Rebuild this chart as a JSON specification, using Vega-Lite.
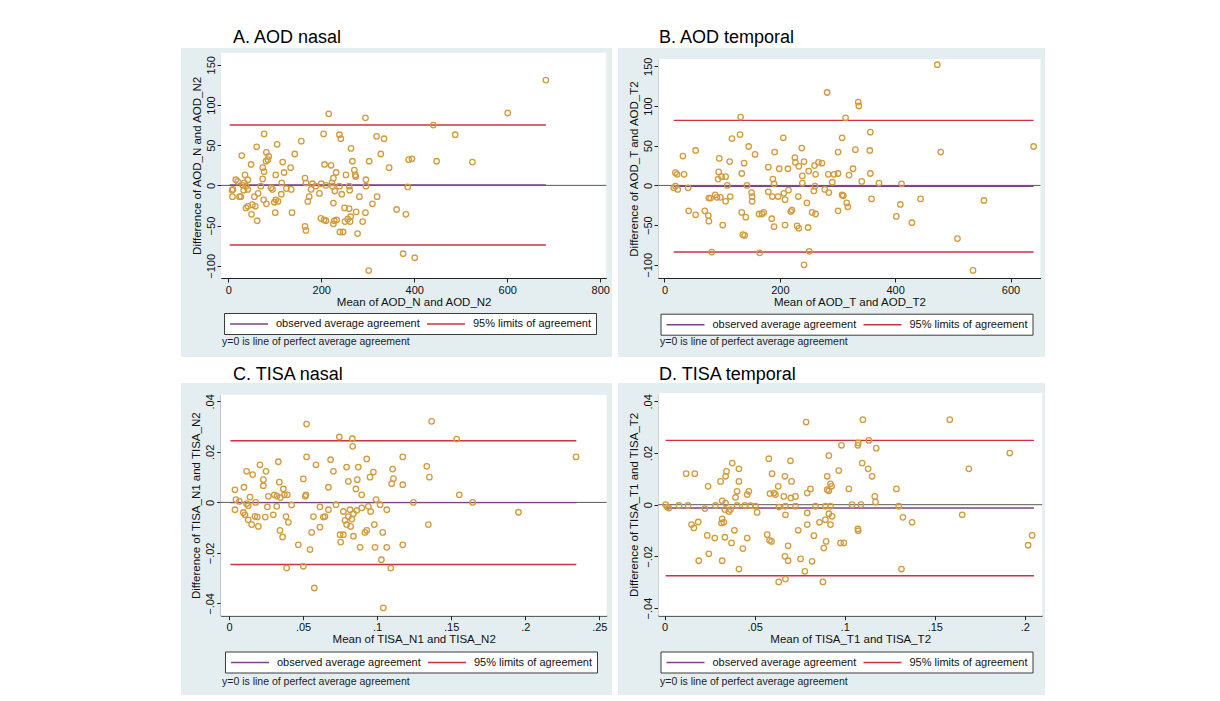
{
"$schema": "https://vega.github.io/schema/vega-lite/v6.json",
"background": "white",
"padding": {"left": 181, "top": 29, "right": 5, "bottom": 2},
"datasets": {
"ptsA": [{"m":683,"d":131},{"m":601,"d":90},{"m":488,"d":63},{"m":525,"d":29},{"m":448,"d":30},{"m":441,"d":75},{"m":395,"d":33},{"m":388,"d":32},{"m":386,"d":-2},{"m":382,"d":-36},{"m":376,"d":-85},{"m":401,"d":-90},{"m":362,"d":-30},{"m":346,"d":22},{"m":335,"d":58},{"m":328,"d":39},{"m":319,"d":61},{"m":320,"d":-14},{"m":310,"d":-23},{"m":302,"d":-106},{"m":303,"d":30},{"m":295,"d":84},{"m":296,"d":7},{"m":296,"d":-1},{"m":295,"d":-34},{"m":289,"d":-45},{"m":278,"d":-60},{"m":282,"d":-14},{"m":274,"d":11},{"m":271,"d":19},{"m":273,"d":13},{"m":267,"d":30},{"m":264,"d":46},{"m":260,"d":-1},{"m":260,"d":-29},{"m":263,"d":-39},{"m":257,"d":-42},{"m":262,"d":-45},{"m":251,"d":-45},{"m":250,"d":-28},{"m":253,"d":13},{"m":244,"d":-11},{"m":247,"d":-58},{"m":240,"d":-58},{"m":233,"d":-43},{"m":226,"d":-48},{"m":228,"d":-44},{"m":239,"d":63},{"m":242,"d":58},{"m":221,"d":25},{"m":226,"d":9},{"m":223,"d":3},{"m":224,"d":-1},{"m":229,"d":-7},{"m":226,"d":-22},{"m":216,"d":89},{"m":210,"d":0},{"m":207,"d":26},{"m":205,"d":64},{"m":206,"d":-43},{"m":210,"d":-44},{"m":199,"d":-41},{"m":196,"d":-10},{"m":181,"d":2},{"m":178,"d":-5},{"m":174,"d":-14},{"m":171,"d":-20},{"m":165,"d":9},{"m":167,"d":3},{"m":165,"d":-51},{"m":167,"d":-56},{"m":157,"d":55},{"m":143,"d":39},{"m":134,"d":22},{"m":137,"d":-34},{"m":135,"d":-5},{"m":117,"d":29},{"m":120,"d":16},{"m":115,"d":3},{"m":114,"d":-11},{"m":105,"d":51},{"m":102,"d":13},{"m":102,"d":-18},{"m":107,"d":-20},{"m":101,"d":-34},{"m":92,"d":-3},{"m":95,"d":-5},{"m":99,"d":-21},{"m":87,"d":36},{"m":82,"d":41},{"m":81,"d":30},{"m":85,"d":32},{"m":77,"d":64},{"m":74,"d":22},{"m":77,"d":17},{"m":74,"d":8},{"m":76,"d":-18},{"m":82,"d":-23},{"m":70,"d":-1},{"m":64,"d":-10},{"m":61,"d":48},{"m":62,"d":-44},{"m":49,"d":26},{"m":56,"d":-14},{"m":52,"d":-24},{"m":50,"d":-36},{"m":58,"d":-26},{"m":42,"d":-26},{"m":38,"d":-28},{"m":42,"d":7},{"m":34,"d":3},{"m":36,"d":13},{"m":38,"d":-1},{"m":29,"d":37},{"m":33,"d":-6},{"m":27,"d":-14},{"m":24,"d":-14},{"m":16,"d":7},{"m":20,"d":5},{"m":8,"d":-6},{"m":9,"d":-14},{"m":10,"d":-5},{"m":31,"d":0},{"m":42,"d":-5},{"m":232,"d":16},{"m":125,"d":-4},{"m":188,"d":-1},{"m":200,"d":2},{"m":239,"d":-1},{"m":261,"d":-6},{"m":275,"d":-33}],
"ptsB": [{"m":473,"d":152},{"m":640,"d":49},{"m":479,"d":42},{"m":554,"d":-19},{"m":508,"d":-67},{"m":535,"d":-107},{"m":282,"d":117},{"m":336,"d":105},{"m":337,"d":100},{"m":314,"d":85},{"m":132,"d":86},{"m":357,"d":67},{"m":308,"d":60},{"m":206,"d":60},{"m":117,"d":59},{"m":131,"d":64},{"m":54,"d":44},{"m":32,"d":37},{"m":146,"d":49},{"m":157,"d":39},{"m":191,"d":42},{"m":238,"d":47},{"m":226,"d":35},{"m":227,"d":29},{"m":233,"d":24},{"m":242,"d":30},{"m":260,"d":25},{"m":273,"d":28},{"m":301,"d":42},{"m":331,"d":45},{"m":356,"d":44},{"m":327,"d":21},{"m":320,"d":13},{"m":308,"d":-12},{"m":316,"d":-22},{"m":318,"d":-27},{"m":301,"d":-32},{"m":310,"d":-13},{"m":284,"d":14},{"m":294,"d":14},{"m":291,"d":4},{"m":285,"d":-9},{"m":262,"d":14},{"m":261,"d":-1},{"m":259,"d":-7},{"m":256,"d":-34},{"m":262,"d":-36},{"m":247,"d":-22},{"m":249,"d":-53},{"m":242,"d":-100},{"m":239,"d":12},{"m":239,"d":3},{"m":232,"d":-14},{"m":230,"d":-51},{"m":233,"d":-54},{"m":221,"d":-31},{"m":219,"d":-33},{"m":215,"d":-6},{"m":207,"d":-10},{"m":209,"d":-18},{"m":209,"d":-50},{"m":190,"d":-52},{"m":188,"d":8},{"m":190,"d":2},{"m":197,"d":-14},{"m":187,"d":-14},{"m":186,"d":-42},{"m":180,"d":-8},{"m":169,"d":-36},{"m":172,"d":-34},{"m":164,"d":-36},{"m":165,"d":-85},{"m":152,"d":-14},{"m":152,"d":-20},{"m":151,"d":-9},{"m":143,"d":0},{"m":138,"d":28},{"m":134,"d":15},{"m":134,"d":-34},{"m":141,"d":-40},{"m":136,"d":-62},{"m":139,"d":-63},{"m":113,"d":30},{"m":114,"d":-14},{"m":106,"d":11},{"m":106,"d":-20},{"m":101,"d":-50},{"m":95,"d":34},{"m":94,"d":17},{"m":99,"d":11},{"m":93,"d":8},{"m":88,"d":-12},{"m":91,"d":-15},{"m":77,"d":-16},{"m":76,"d":-38},{"m":77,"d":-45},{"m":70,"d":-32},{"m":82,"d":-84},{"m":54,"d":-37},{"m":42,"d":-32},{"m":41,"d":-3},{"m":34,"d":14},{"m":19,"d":16},{"m":22,"d":14},{"m":19,"d":-1},{"m":23,"d":-5},{"m":16,"d":-3},{"m":278,"d":-5},{"m":267,"d":29},{"m":301,"d":15},{"m":342,"d":5},{"m":357,"d":15},{"m":359,"d":-17},{"m":372,"d":3},{"m":402,"d":-39},{"m":409,"d":-24},{"m":411,"d":2},{"m":429,"d":-47},{"m":444,"d":-17},{"m":180,"d":23},{"m":199,"d":21},{"m":214,"d":21},{"m":250,"d":18},{"m":109,"d":0},{"m":80,"d":-16},{"m":97,"d":-15},{"m":251,"d":-83}],
"ptsC": [{"m":0.1368,"d":0.0321},{"m":0.0524,"d":0.031},{"m":0.0745,"d":0.0259},{"m":0.0833,"d":0.0252},{"m":0.0835,"d":0.0222},{"m":0.1537,"d":0.0251},{"m":0.2343,"d":0.018},{"m":0.1173,"d":0.018},{"m":0.0524,"d":0.018},{"m":0.0686,"d":0.0169},{"m":0.093,"d":0.0172},{"m":0.0333,"d":0.0161},{"m":0.0209,"d":0.0149},{"m":0.0587,"d":0.0149},{"m":0.1335,"d":0.0143},{"m":0.0794,"d":0.014},{"m":0.0873,"d":0.014},{"m":0.1105,"d":0.0132},{"m":0.0119,"d":0.0123},{"m":0.016,"d":0.011},{"m":0.025,"d":0.0123},{"m":0.0705,"d":0.0123},{"m":0.0975,"d":0.012},{"m":0.0952,"d":0.01},{"m":0.1353,"d":0.01},{"m":0.0232,"d":0.009},{"m":0.0502,"d":0.0093},{"m":0.0806,"d":0.0083},{"m":0.0866,"d":0.009},{"m":0.111,"d":0.0094},{"m":0.1098,"d":0.0074},{"m":0.1173,"d":0.007},{"m":0.034,"d":0.008},{"m":0.0232,"d":0.0066},{"m":0.0671,"d":0.006},{"m":0.0101,"d":0.006},{"m":0.004,"d":0.005},{"m":0.0367,"d":0.0053},{"m":0.0857,"d":0.0053},{"m":0.0896,"d":0.003},{"m":0.0374,"d":0.003},{"m":0.0394,"d":0.003},{"m":0.0306,"d":0.003},{"m":0.0266,"d":0.0024},{"m":0.0142,"d":0.0021},{"m":0.052,"d":0.003},{"m":0.0515,"d":0.0024},{"m":0.0047,"d":0.0011},{"m":0.007,"d":0.0004},{"m":0.1555,"d":0.003},{"m":0.0993,"d":0.0011},{"m":0.1245,"d":0.0},{"m":0.1645,"d":0.0},{"m":0.0119,"d":-0.0005},{"m":0.013,"d":-0.0013},{"m":0.004,"d":-0.0029},{"m":0.0259,"d":-0.0018},{"m":0.0322,"d":-0.0016},{"m":0.0423,"d":-0.001},{"m":0.0614,"d":-0.0018},{"m":0.0671,"d":-0.0029},{"m":0.0722,"d":-0.0009},{"m":0.0941,"d":-0.0016},{"m":0.0956,"d":-0.0036},{"m":0.102,"d":-0.0009},{"m":0.1065,"d":-0.0029},{"m":0.1954,"d":-0.0039},{"m":0.0097,"d":-0.004},{"m":0.0108,"d":-0.0049},{"m":0.013,"d":-0.0069},{"m":0.0191,"d":-0.0058},{"m":0.0299,"d":-0.0049},{"m":0.0385,"d":-0.0056},{"m":0.0401,"d":-0.0079},{"m":0.057,"d":-0.0056},{"m":0.0637,"d":-0.0058},{"m":0.0772,"d":-0.0036},{"m":0.0817,"d":-0.0029},{"m":0.084,"d":-0.0045},{"m":0.0806,"d":-0.0056},{"m":0.0829,"d":-0.0066},{"m":0.0783,"d":-0.0071},{"m":0.0794,"d":-0.0088},{"m":0.0821,"d":-0.0095},{"m":0.0862,"d":-0.0032},{"m":0.0153,"d":-0.0088},{"m":0.0198,"d":-0.0095},{"m":0.0344,"d":-0.0111},{"m":0.0362,"d":-0.0137},{"m":0.0614,"d":-0.0098},{"m":0.0558,"d":-0.0119},{"m":0.075,"d":-0.0128},{"m":0.0772,"d":-0.0128},{"m":0.084,"d":-0.0134},{"m":0.093,"d":-0.0111},{"m":0.0918,"d":-0.0119},{"m":0.0981,"d":-0.0088},{"m":0.1038,"d":-0.0119},{"m":0.1346,"d":-0.0088},{"m":0.0754,"d":-0.0157},{"m":0.0468,"d":-0.0168},{"m":0.0547,"d":-0.0187},{"m":0.0885,"d":-0.0178},{"m":0.0986,"d":-0.0178},{"m":0.1065,"d":-0.0178},{"m":0.1173,"d":-0.0168},{"m":0.1029,"d":-0.0227},{"m":0.0389,"d":-0.026},{"m":0.0502,"d":-0.0253},{"m":0.1092,"d":-0.026},{"m":0.0576,"d":-0.0339},{"m":0.1042,"d":-0.0418},{"m":0.0648,"d":-0.0056},{"m":0.0896,"d":-0.0022},{"m":0.0324,"d":0.0025},{"m":0.0347,"d":0.0019},{"m":0.018,"d":0.0},{"m":0.0175,"d":-0.0055},{"m":0.0245,"d":-0.0058}],
"ptsD": [{"m":0.0786,"d":0.032},{"m":0.1101,"d":0.0329},{"m":0.1583,"d":0.0329},{"m":0.1916,"d":0.02},{"m":0.1689,"d":0.0139},{"m":0.1652,"d":-0.0039},{"m":0.204,"d":-0.0119},{"m":0.2018,"d":-0.0157},{"m":0.1315,"d":-0.0249},{"m":0.1287,"d":0.0061},{"m":0.13,"d":-0.0006},{"m":0.1323,"d":-0.0049},{"m":0.1374,"d":-0.0068},{"m":0.1134,"d":0.0249},{"m":0.1075,"d":0.0239},{"m":0.1073,"d":0.023},{"m":0.0982,"d":0.023},{"m":0.1175,"d":0.0219},{"m":0.1097,"d":0.0161},{"m":0.113,"d":0.0139},{"m":0.1152,"d":0.011},{"m":0.0912,"d":0.019},{"m":0.0967,"d":0.0132},{"m":0.0699,"d":0.017},{"m":0.0579,"d":0.0178},{"m":0.0597,"d":0.012},{"m":0.0668,"d":0.011},{"m":0.0705,"d":0.009},{"m":0.0631,"d":0.0071},{"m":0.0607,"d":0.0045},{"m":0.0616,"d":0.0039},{"m":0.0662,"d":0.0032},{"m":0.0727,"d":0.0032},{"m":0.0792,"d":0.0045},{"m":0.081,"d":0.0061},{"m":0.0903,"d":0.0058},{"m":0.0921,"d":0.0081},{"m":0.0927,"d":0.0071},{"m":0.0912,"d":0.0054},{"m":0.0903,"d":0.011},{"m":0.1023,"d":0.0061},{"m":0.1167,"d":0.0032},{"m":0.1171,"d":0.001},{"m":0.1041,"d":0.0},{"m":0.0893,"d":-0.0006},{"m":0.0921,"d":-0.0006},{"m":0.0838,"d":-0.0006},{"m":0.0792,"d":-0.0032},{"m":0.0671,"d":-0.0006},{"m":0.0727,"d":-0.0006},{"m":0.0671,"d":-0.0039},{"m":0.093,"d":-0.0045},{"m":0.0912,"d":-0.0035},{"m":0.0921,"d":-0.0077},{"m":0.0893,"d":-0.0058},{"m":0.086,"d":-0.0068},{"m":0.0792,"d":-0.0077},{"m":0.0742,"d":-0.0099},{"m":0.0829,"d":-0.012},{"m":0.0686,"d":-0.0159},{"m":0.0897,"d":-0.0142},{"m":0.0884,"d":-0.0168},{"m":0.0977,"d":-0.0148},{"m":0.0995,"d":-0.0148},{"m":0.1073,"d":-0.0094},{"m":0.1075,"d":-0.0101},{"m":0.0668,"d":-0.02},{"m":0.0686,"d":-0.0217},{"m":0.0755,"d":-0.021},{"m":0.0819,"d":-0.0219},{"m":0.0779,"d":-0.0258},{"m":0.0671,"d":-0.0288},{"m":0.0634,"d":-0.0299},{"m":0.0879,"d":-0.0299},{"m":0.057,"d":-0.0116},{"m":0.0583,"d":-0.0138},{"m":0.0594,"d":-0.0142},{"m":0.0505,"d":-0.0006},{"m":0.0514,"d":-0.003},{"m":0.0459,"d":0.0039},{"m":0.0468,"d":0.0052},{"m":0.0403,"d":0.0052},{"m":0.0394,"d":0.0028},{"m":0.0376,"d":0.0161},{"m":0.0344,"d":0.0129},{"m":0.0339,"d":0.011},{"m":0.0311,"d":0.009},{"m":0.0413,"d":0.0139},{"m":0.0413,"d":0.009},{"m":0.0242,"d":0.0071},{"m":0.012,"d":0.012},{"m":0.0168,"d":0.012},{"m":0.0339,"d":0.0006},{"m":0.032,"d":0.0015},{"m":0.0357,"d":-0.0026},{"m":0.0366,"d":-0.0019},{"m":0.0335,"d":-0.0019},{"m":0.0283,"d":-0.0003},{"m":0.0224,"d":-0.0015},{"m":0.0131,"d":-0.0003},{"m":0.008,"d":-0.0003},{"m":0.0006,"d":0.0},{"m":0.0015,"d":-0.0009},{"m":0.0024,"d":-0.0013},{"m":0.0403,"d":-0.0003},{"m":0.0446,"d":-0.0003},{"m":0.0477,"d":-0.0004},{"m":0.032,"d":-0.0055},{"m":0.0316,"d":-0.0071},{"m":0.0329,"d":-0.0068},{"m":0.015,"d":-0.0077},{"m":0.0163,"d":-0.009},{"m":0.0187,"d":-0.0067},{"m":0.0237,"d":-0.0119},{"m":0.0279,"d":-0.0129},{"m":0.0335,"d":-0.0126},{"m":0.0372,"d":-0.0148},{"m":0.0388,"d":-0.0099},{"m":0.0459,"d":-0.0129},{"m":0.0435,"d":-0.017},{"m":0.0246,"d":-0.019},{"m":0.019,"d":-0.0217},{"m":0.032,"d":-0.0217},{"m":0.0413,"d":-0.0249},{"m":0.0585,"d":0.0043},{"m":0.0701,"d":0.0026},{"m":0.109,"d":0.0},{"m":0.0635,"d":-0.0009}],
"lines": [
{"p":"A","kind":"observed average agreement","y":0.5,"x1":3,"x2":683},
{"p":"A","kind":"95% limits of agreement","y":75.1,"x1":3,"x2":683},
{"p":"A","kind":"95% limits of agreement","y":-74.1,"x1":3,"x2":683},
{"p":"B","kind":"observed average agreement","y":-1,"x1":16,"x2":640},
{"p":"B","kind":"95% limits of agreement","y":81.9,"x1":16,"x2":640},
{"p":"B","kind":"95% limits of agreement","y":-83.9,"x1":16,"x2":640},
{"p":"C","kind":"observed average agreement","y":-0.0001,"x1":0.001,"x2":0.2345},
{"p":"C","kind":"95% limits of agreement","y":0.0244,"x1":0.001,"x2":0.2345},
{"p":"C","kind":"95% limits of agreement","y":-0.0246,"x1":0.001,"x2":0.2345},
{"p":"D","kind":"observed average agreement","y":-0.0013,"x1":0.0006,"x2":0.205},
{"p":"D","kind":"95% limits of agreement","y":0.0249,"x1":0.0006,"x2":0.205},
{"p":"D","kind":"95% limits of agreement","y":-0.0275,"x1":0.0006,"x2":0.205}
]
},
"spacing": 9,
"resolve": {"scale": {"color": "independent"}, "legend": {"color": "independent"}},
"vconcat": [
{"spacing": 6, "resolve": {"scale": {"color": "independent"}, "legend": {"color": "independent"}}, "hconcat": [
{"title": {"text": "A. AOD nasal", "anchor": "start", "dx": 52, "fontSize": 18, "fontWeight": "normal", "offset": -13, "baseline": "alphabetic", "color": "#000"},
 "resolve": {"scale": {"color": "independent"}, "legend": {"color": "independent"}},
 "vconcat": [{
  "width": 431, "height": 309,
  "view": {"fill": "#e4eef1", "stroke": null},
  "title": {"text": "y=0 is line of perfect average agreement", "orient": "bottom", "anchor": "start", "frame": "group", "dx": 41, "offset": -20, "fontSize": 10.5, "fontWeight": "normal", "baseline": "top", "color": "#222"},
  "layer": [
   {"data": {"values": [{}]}, "mark": {"type": "rect", "fill": "white"},
    "encoding": {
     "x": {"datum": -15.7, "type": "quantitative", "scale": {"domain": [-15.7, 813], "range": [40, 425.3], "nice": false, "zero": false},
       "axis": {"title": "Mean of AOD_N and AOD_N2", "values": [0, 200, 400, 600, 800], "offset": -79}},
     "x2": {"datum": 813},
     "y": {"datum": -115.2, "type": "quantitative", "scale": {"domain": [-115.2, 165], "range": [230, 4.7], "nice": false, "zero": false},
       "axis": {"title": "Difference of AOD_N and AOD_N2", "values": [-100, -50, 0, 50, 100, 150], "offset": -40}},
     "y2": {"datum": 165}}},
   {"data": {"values": [{}]}, "mark": {"type": "rule", "color": "#5a5a5a", "strokeWidth": 1},
    "encoding": {"x": {"datum": -15.7, "type": "quantitative"}, "x2": {"datum": 813}, "y": {"datum": 0, "type": "quantitative"}}},
   {"data": {"name": "lines"}, "transform": [{"filter": "datum.p == 'A'"}], "mark": {"type": "rule", "strokeWidth": 1.4},
    "encoding": {"x": {"field": "x1", "type": "quantitative"}, "x2": {"field": "x2"}, "y": {"field": "y", "type": "quantitative"},
     "color": {"field": "kind", "type": "nominal", "scale": {"domain": ["observed average agreement", "95% limits of agreement"], "range": ["#7b4287", "#d2303f"]},
      "legend": {"orient": "none", "legendX": 43, "legendY": 265, "direction": "horizontal", "title": null, "strokeColor": "#3a3a3a", "fillColor": "white", "padding": 5, "symbolType": "M-1,0H6.6", "symbolSize": 100, "symbolStrokeWidth": 1.5, "labelFontSize": 11, "labelOffset": 35, "columnPadding": 4, "labelColor": "#111"}}}},
   {"data": {"name": "ptsA"}, "mark": {"type": "point", "shape": "circle", "filled": false, "stroke": "#d39a3c", "strokeWidth": 1.3, "size": 30, "opacity": 1},
    "encoding": {"x": {"field": "m", "type": "quantitative"}, "y": {"field": "d", "type": "quantitative"}}}
  ]}]},
{"title": {"text": "B. AOD temporal", "anchor": "start", "dx": 41, "fontSize": 18, "fontWeight": "normal", "offset": -13, "baseline": "alphabetic", "color": "#000"},
 "resolve": {"scale": {"color": "independent"}, "legend": {"color": "independent"}},
 "vconcat": [{
  "width": 427, "height": 309,
  "view": {"fill": "#e4eef1", "stroke": null},
  "title": {"text": "y=0 is line of perfect average agreement", "orient": "bottom", "anchor": "start", "frame": "group", "dx": 42, "offset": -20, "fontSize": 10.5, "fontWeight": "normal", "baseline": "top", "color": "#222"},
  "layer": [
   {"data": {"values": [{}]}, "mark": {"type": "rect", "fill": "white"},
    "encoding": {
     "x": {"datum": -10.9, "type": "quantitative", "scale": {"domain": [-10.9, 652], "range": [40.2, 422.5], "nice": false, "zero": false},
       "axis": {"title": "Mean of AOD_T and AOD_T2", "values": [0, 200, 400, 600], "offset": -79}},
     "x2": {"datum": 652},
     "y": {"datum": -116.6, "type": "quantitative", "scale": {"domain": [-116.6, 159.2], "range": [230, 11], "nice": false, "zero": false},
       "axis": {"title": "Difference of AOD_T and AOD_T2", "values": [-100, -50, 0, 50, 100, 150], "offset": -40}},
     "y2": {"datum": 159.2}}},
   {"data": {"values": [{}]}, "mark": {"type": "rule", "color": "#5a5a5a", "strokeWidth": 1},
    "encoding": {"x": {"datum": -10.9, "type": "quantitative"}, "x2": {"datum": 652}, "y": {"datum": 0, "type": "quantitative"}}},
   {"data": {"name": "lines"}, "transform": [{"filter": "datum.p == 'B'"}], "mark": {"type": "rule", "strokeWidth": 1.4},
    "encoding": {"x": {"field": "x1", "type": "quantitative"}, "x2": {"field": "x2"}, "y": {"field": "y", "type": "quantitative"},
     "color": {"field": "kind", "type": "nominal", "scale": {"domain": ["observed average agreement", "95% limits of agreement"], "range": ["#7b4287", "#d2303f"]},
      "legend": {"orient": "none", "legendX": 42.5, "legendY": 265.7, "direction": "horizontal", "title": null, "strokeColor": "#3a3a3a", "fillColor": "white", "padding": 5, "symbolType": "M-1,0H6.6", "symbolSize": 100, "symbolStrokeWidth": 1.5, "labelFontSize": 11, "labelOffset": 35, "columnPadding": 4, "labelColor": "#111"}}}},
   {"data": {"name": "ptsB"}, "mark": {"type": "point", "shape": "circle", "filled": false, "stroke": "#d39a3c", "strokeWidth": 1.3, "size": 30, "opacity": 1},
    "encoding": {"x": {"field": "m", "type": "quantitative"}, "y": {"field": "d", "type": "quantitative"}}}
  ]}]}
]},
{"spacing": 6, "resolve": {"scale": {"color": "independent"}, "legend": {"color": "independent"}}, "hconcat": [
{"title": {"text": "C. TISA nasal", "anchor": "start", "dx": 52, "fontSize": 18, "fontWeight": "normal", "offset": -15, "baseline": "alphabetic", "color": "#000"},
 "resolve": {"scale": {"color": "independent"}, "legend": {"color": "independent"}},
 "vconcat": [{
  "width": 431, "height": 312,
  "view": {"fill": "#e4eef1", "stroke": null},
  "title": {"text": "y=0 is line of perfect average agreement", "orient": "bottom", "anchor": "start", "frame": "group", "dx": 41, "offset": -18, "fontSize": 10.5, "fontWeight": "normal", "baseline": "top", "color": "#222"},
  "layer": [
   {"data": {"values": [{}]}, "mark": {"type": "rect", "fill": "white"},
    "encoding": {
     "x": {"datum": -0.0056, "type": "quantitative", "scale": {"domain": [-0.0056, 0.255], "range": [39.7, 425.7], "nice": false, "zero": false},
       "axis": {"title": "Mean of TISA_N1 and TISA_N2", "values": [0, 0.05, 0.1, 0.15, 0.2, 0.25], "offset": -79.3, "labelExpr": "datum.value == 0 ? '0' : replace(format(datum.value, '.2~f'), '0.', '.')"}},
     "x2": {"datum": 0.255},
     "y": {"datum": -0.04487, "type": "quantitative", "scale": {"domain": [-0.04487, 0.04265], "range": [232.7, 11.7], "nice": false, "zero": false},
       "axis": {"title": "Difference of TISA_N1 and TISA_N2", "values": [-0.04, -0.02, 0, 0.02, 0.04], "offset": -39.7, "labelExpr": "datum.value == 0 ? '0' : replace(format(datum.value, '.2~f'), '0.', '.')"}},
     "y2": {"datum": 0.04265}}},
   {"data": {"values": [{}]}, "mark": {"type": "rule", "color": "#5a5a5a", "strokeWidth": 1},
    "encoding": {"x": {"datum": -0.0056, "type": "quantitative"}, "x2": {"datum": 0.255}, "y": {"datum": 0, "type": "quantitative"}}},
   {"data": {"name": "lines"}, "transform": [{"filter": "datum.p == 'C'"}], "mark": {"type": "rule", "strokeWidth": 1.4},
    "encoding": {"x": {"field": "x1", "type": "quantitative"}, "x2": {"field": "x2"}, "y": {"field": "y", "type": "quantitative"},
     "color": {"field": "kind", "type": "nominal", "scale": {"domain": ["observed average agreement", "95% limits of agreement"], "range": ["#7b4287", "#d2303f"]},
      "legend": {"orient": "none", "legendX": 44, "legendY": 268.5, "direction": "horizontal", "title": null, "strokeColor": "#3a3a3a", "fillColor": "white", "padding": 5, "symbolType": "M-1,0H6.6", "symbolSize": 100, "symbolStrokeWidth": 1.5, "labelFontSize": 11, "labelOffset": 35, "columnPadding": 4, "labelColor": "#111"}}}},
   {"data": {"name": "ptsC"}, "mark": {"type": "point", "shape": "circle", "filled": false, "stroke": "#d39a3c", "strokeWidth": 1.3, "size": 30, "opacity": 1},
    "encoding": {"x": {"field": "m", "type": "quantitative"}, "y": {"field": "d", "type": "quantitative"}}}
  ]}]},
{"title": {"text": "D. TISA temporal", "anchor": "start", "dx": 41, "fontSize": 18, "fontWeight": "normal", "offset": -15, "baseline": "alphabetic", "color": "#000"},
 "resolve": {"scale": {"color": "independent"}, "legend": {"color": "independent"}},
 "vconcat": [{
  "width": 427, "height": 312,
  "view": {"fill": "#e4eef1", "stroke": null},
  "title": {"text": "y=0 is line of perfect average agreement", "orient": "bottom", "anchor": "start", "frame": "group", "dx": 42, "offset": -18, "fontSize": 10.5, "fontWeight": "normal", "baseline": "top", "color": "#222"},
  "layer": [
   {"data": {"values": [{}]}, "mark": {"type": "rect", "fill": "white"},
    "encoding": {
     "x": {"datum": -0.0035, "type": "quantitative", "scale": {"domain": [-0.0035, 0.2096], "range": [40.2, 424.2], "nice": false, "zero": false},
       "axis": {"title": "Mean of TISA_T1 and TISA_T2", "values": [0, 0.05, 0.1, 0.15, 0.2], "offset": -79.3, "labelExpr": "datum.value == 0 ? '0' : replace(format(datum.value, '.2~f'), '0.', '.')"}},
     "x2": {"datum": 0.2096},
     "y": {"datum": -0.04297, "type": "quantitative", "scale": {"domain": [-0.04297, 0.04324], "range": [232.7, 10], "nice": false, "zero": false},
       "axis": {"title": "Difference of TISA_T1 and TISA_T2", "values": [-0.04, -0.02, 0, 0.02, 0.04], "offset": -40, "labelExpr": "datum.value == 0 ? '0' : replace(format(datum.value, '.2~f'), '0.', '.')"}},
     "y2": {"datum": 0.04324}}},
   {"data": {"values": [{}]}, "mark": {"type": "rule", "color": "#5a5a5a", "strokeWidth": 1},
    "encoding": {"x": {"datum": -0.0035, "type": "quantitative"}, "x2": {"datum": 0.2096}, "y": {"datum": 0, "type": "quantitative"}}},
   {"data": {"name": "lines"}, "transform": [{"filter": "datum.p == 'D'"}], "mark": {"type": "rule", "strokeWidth": 1.4},
    "encoding": {"x": {"field": "x1", "type": "quantitative"}, "x2": {"field": "x2"}, "y": {"field": "y", "type": "quantitative"},
     "color": {"field": "kind", "type": "nominal", "scale": {"domain": ["observed average agreement", "95% limits of agreement"], "range": ["#7b4287", "#d2303f"]},
      "legend": {"orient": "none", "legendX": 42.5, "legendY": 268.5, "direction": "horizontal", "title": null, "strokeColor": "#3a3a3a", "fillColor": "white", "padding": 5, "symbolType": "M-1,0H6.6", "symbolSize": 100, "symbolStrokeWidth": 1.5, "labelFontSize": 11, "labelOffset": 35, "columnPadding": 4, "labelColor": "#111"}}}},
   {"data": {"name": "ptsD"}, "mark": {"type": "point", "shape": "circle", "filled": false, "stroke": "#d39a3c", "strokeWidth": 1.3, "size": 30, "opacity": 1},
    "encoding": {"x": {"field": "m", "type": "quantitative"}, "y": {"field": "d", "type": "quantitative"}}}
  ]}]}
]}
],
"config": {
 "font": "Liberation Sans",
 "view": {"stroke": null},
 "axis": {"domainColor": "#222", "tickColor": "#222", "labelColor": "#111", "titleColor": "#111", "labelFontSize": 11, "titleFontSize": 11.5, "titleFontWeight": "normal", "tickSize": 4, "grid": false, "labelFlush": false, "labelOverlap": false, "zindex": 1, "domainWidth": 1, "tickWidth": 1},
 "axisY": {"labelAngle": -90, "labelPadding": 1, "titlePadding": 3},
 "axisX": {"labelPadding": 2, "titlePadding": 1}
}
}
